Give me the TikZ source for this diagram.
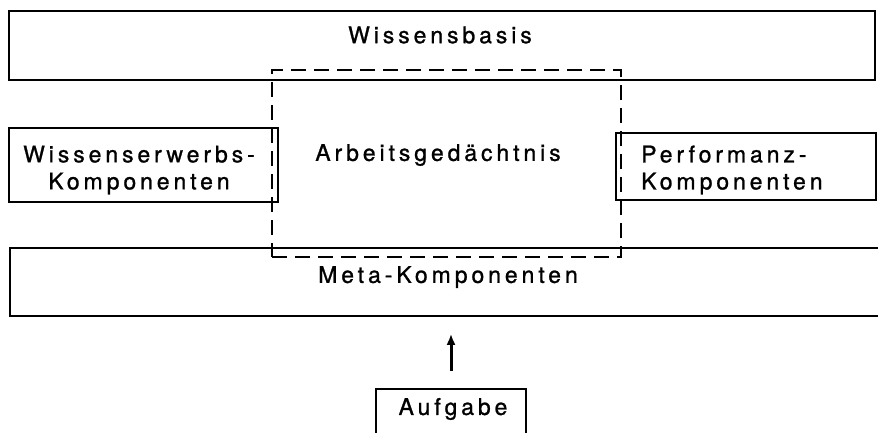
\documentclass[tikz,border=0pt]{standalone}
\usepackage{fontspec}
\setmainfont{TeX Gyre Heros}[LetterSpace=17, FakeBold=1]
\usetikzlibrary{arrows.meta}
\begin{document}
\begin{tikzpicture}[x=1pt, y=-1pt,
    every node/.append style={font=\fontsize{23}{27}\selectfont, inner sep=0pt},
    box/.style={draw, line width=1.6pt},
    memory/.style={draw, line width=1.6pt, dash pattern=on 15pt off 8pt}]
    \useasboundingbox (0,0) rectangle (878,432);

    \node[box, minimum width=866pt, minimum height=69pt] (basis_box) at (442,45.5) {};
    \node (basis_name) at (440,35) {Wissensbasis};

    \node[memory, minimum width=349pt, minimum height=187pt] (memory_box) at (446.5,163.5) {};
    \node (memory_name) at (438,155) {Arbeitsgedächtnis};

    \node[box, minimum width=269pt, minimum height=74pt] (learn_box) at (143.5,165) {};
    \node[align=center] (learn_name) at (139,170) {Wissenserwerbs-\\Komponenten};

    \node[box, minimum width=260pt, minimum height=67pt] (perf_box) at (746,166.5) {};
    \node[align=left, anchor=west] (perf_name) at (641,170) {Performanz-\\Komponenten};

    \node[box, minimum width=880pt, minimum height=68pt] (meta_box) at (450,282) {};
    \node (meta_name) at (448,277) {Meta-Komponenten};

    \node[box, minimum width=150pt, minimum height=71pt] (task_box) at (451,424.5) {};
    \node (task_name) at (453,409) {Aufgabe};

    \path[-{Latex[length=11pt, width=9pt]}, line width=3pt]
        (task_box.north) edge[shorten <=17pt, shorten >=17pt] (task_box.north |- meta_box.south);
\end{tikzpicture}
\end{document}
